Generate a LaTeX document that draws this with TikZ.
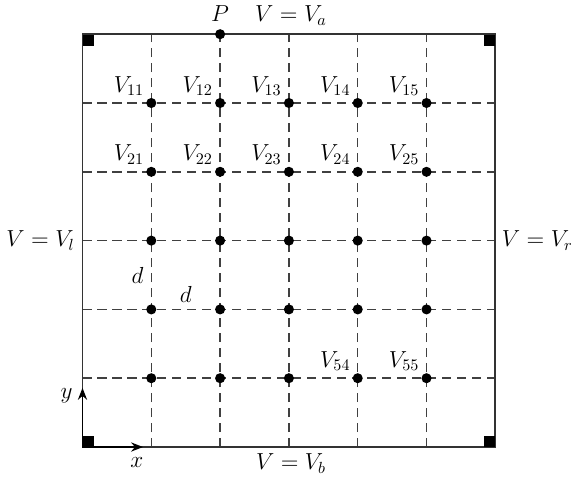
\documentclass[tikz,border=0pt]{standalone}
\usepackage{tikz}
\usetikzlibrary{arrows.meta, positioning}

\begin{document}
\begin{tikzpicture}[
        x=1.5cm, y=1.5cm,
        node distance=0.1cm,
        font=\fontsize{14}{16}\selectfont,
        gridline/.style={dash pattern=on 5.6pt off 3.7pt, line width=0.9pt, color=black!75},
        border/.style={line width=1.1pt, color=black!80},
        dot/.style={circle, fill=black, inner sep=0pt, minimum size=2.2mm},
        corner/.style={rectangle, fill=black, inner sep=0pt, minimum size=2.4mm},
        vlabel/.style={inner sep=2pt},
        axis/.style={-{Stealth[length=2.6mm, width=2mm]}, line width=1.1pt}
      ]
        \useasboundingbox (-1.199,-0.436) rectangle (7.158,6.497);
        % grid
        \foreach \i in {1,...,5} {
          \coordinate (b\i) at (\i,0);
          \coordinate (t\i) at (\i,6);
          \coordinate (l\i) at (0,\i);
          \coordinate (r\i) at (6,\i);
          \draw[gridline] (b\i) -- (t\i);
          \draw[gridline] (l\i) -- (r\i);
        }
        \coordinate (sw) at (0,0);
        \coordinate (ne) at (6,6);
        \draw[border] (sw) rectangle (ne);
        \node[corner, anchor=north west] (cnw) at (0,6) {};
        \node[corner, anchor=north east] (cne) at (6,6) {};
        \node[corner, anchor=south west] (csw) at (0,0) {};
        \node[corner, anchor=south east] (cse) at (6,0) {};
        % nodes
        \foreach \r in {1,...,5}
          \foreach \c in {1,...,5}
            \node[dot] (v\r\c) at (\c,6-\r) {};
        \node[dot] (p) at (t2) {};
        \node[anchor=base] (plab) at (2,6.18) {$P$};
        \foreach \r/\c in {1/1,1/2,1/3,1/4,1/5,2/1,2/2,2/3,2/4,2/5,5/4,5/5}
          \node[vlabel, above left=0pt of v\r\c] (lab\r\c) {$V_{\r\c}$};
        % boundary values
        \node[anchor=base] (va) at (3.03,6.18) {$V = V_a$};
        \node[anchor=base] (vb) at (3.03,-0.33) {$V = V_b$};
        \node[left=0.05cm of l3] (vl) {$V = V_l$};
        \node[right=0.02cm of r3] (vr) {$V = V_r$};
        % spacing
        \coordinate (dv) at (1,2.5);
        \coordinate (dh) at (1.5,2);
        \node[left=0.05cm of dv] (dvlab) {$d$};
        \node[above=0.02cm of dh] (dhlab) {$d$};
        % axes
        \coordinate (xend) at (0.88,0);
        \coordinate (yend) at (0,0.86);
        \draw[axis] (sw) -- (xend);
        \draw[axis] (sw) -- (yend);
        \node (xlab) at (0.79,-0.23) {$x$};
        \node (ylab) at (-0.23,0.75) {$y$};
      \end{tikzpicture}
\end{document}
